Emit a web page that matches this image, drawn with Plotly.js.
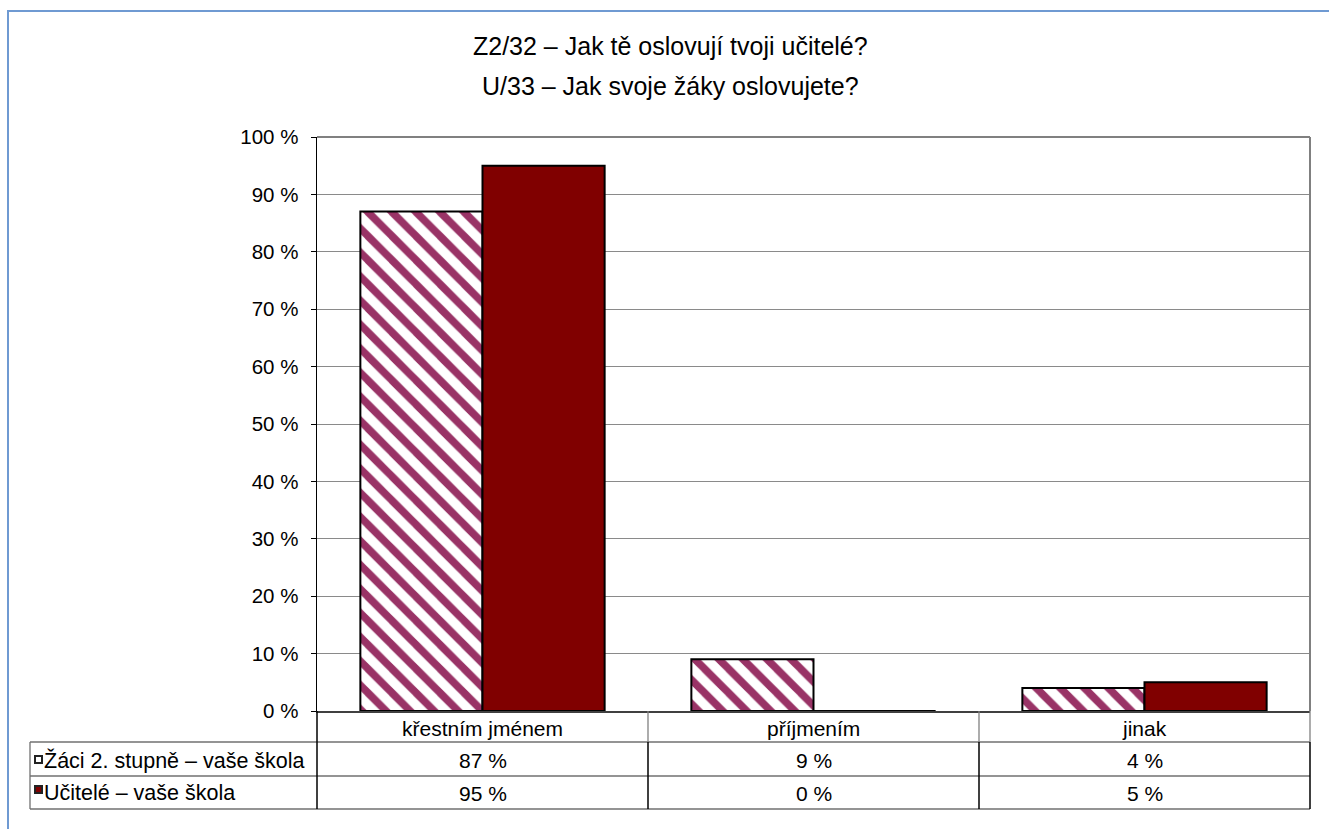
<!DOCTYPE html>
<html>
<head>
<meta charset="utf-8">
<script src="https://cdn.plot.ly/plotly-3.0.1.min.js"></script>
<style>html,body{margin:0;padding:0;background:#fff;}#chart{width:1329px;height:829px;}</style>
</head>
<body>
<div id="chart"></div>
<script>
const categories = ["křestním jménem", "příjmením", "jinak"];
const seriesNames = ["Žáci 2. stupně – vaše škola", "Učitelé – vaše škola"];
const zaciValues = [87, 9, 4];
const uciteleValues = [95, 0, 5];
const titleLines = ["Z2/32 – Jak tě oslovují tvoji učitelé?", "U/33 – Jak svoje žáky oslovujete?"];

const FONT = "Liberation Sans, Arial, sans-serif";
// plot area pixel geometry: x 317..1310, y 137..711
const L = 317, R = 1310, T = 137, B = 711;
const W = R - L, H = B - T;
const px = x => (x - L) / W;
const py = y => (B - y) / H;

const traces = [
  {
    type: "bar", x: categories, y: zaciValues, name: seriesNames[0],
    marker: {
      color: "white",
      line: {color: "black", width: 2},
      pattern: {shape: "\\", fgcolor: "#993366", bgcolor: "white", size: 17, solidity: 0.45, fillmode: "replace"}
    },
    hoverinfo: "skip"
  },
  {
    type: "bar", x: categories, y: uciteleValues, name: seriesNames[1],
    marker: {color: "#800000", line: {color: "black", width: 2}},
    hoverinfo: "skip"
  }
];

const shapes = [];
const line = (x0, y0, x1, y1, color, width) => shapes.push({
  type: "line", xref: "paper", yref: "paper", x0: px(x0), y0: py(y0), x1: px(x1), y1: py(y1),
  line: {color: color, width: width}
});
// plot top/right border
line(L, T, R, T, "#808080", 2);
line(R, T, R, B, "#808080", 2);
// table
const tL = 30, r1 = 742, r2 = 776, r3 = 809;
line(tL, r1, R, r1, "#707070", 1.3);
line(tL, r2, R, r2, "#707070", 1.3);
line(tL, r3, R, r3, "#707070", 1.3);
line(tL, r1, tL, r3, "#707070", 1.3);
line(L, B, L, r3, "black", 1.5);
const colW = W / categories.length;
for (let i = 1; i <= categories.length; i++) {
  const xx = L + colW * i;
  line(xx, B, xx, r1, "#808080", 1.3);
  line(xx, r1, xx, r3, "black", 1.5);
}
// legend keys
shapes.push({type: "rect", xref: "paper", yref: "paper", x0: px(35), x1: px(42), y0: py(763), y1: py(756),
  fillcolor: "white", line: {color: "#222", width: 2}});
shapes.push({type: "rect", xref: "paper", yref: "paper", x0: px(35), x1: px(42), y0: py(793), y1: py(786),
  fillcolor: "#800000", line: {color: "#222", width: 2}});
// outer blue frame
shapes.push({type: "rect", xref: "paper", yref: "paper", x0: px(8), x1: px(1345), y0: py(11), y1: py(845),
  fillcolor: "rgba(0,0,0,0)", line: {color: "#6f9ad2", width: 2}});

const annotations = [];
titleLines.forEach((t, i) => annotations.push({
  text: t, xref: "paper", yref: "paper", x: px(670), y: py(46 + i * 40), xanchor: "center", yanchor: "middle",
  showarrow: false, font: {family: FONT, size: 25, color: "black"}
}));
categories.forEach((c, i) => {
  annotations.push({text: c, xref: "x", yref: "paper", x: c, y: py(728), xanchor: "center", yanchor: "middle",
    showarrow: false, font: {family: FONT, size: 21, color: "black"}});
  annotations.push({text: zaciValues[i] + " %", xref: "x", yref: "paper", x: c, y: py(760), xanchor: "center", yanchor: "middle",
    showarrow: false, font: {family: FONT, size: 21, color: "black"}});
  annotations.push({text: uciteleValues[i] + " %", xref: "x", yref: "paper", x: c, y: py(793), xanchor: "center", yanchor: "middle",
    showarrow: false, font: {family: FONT, size: 21, color: "black"}});
});
seriesNames.forEach((s, i) => annotations.push({
  text: s, xref: "paper", yref: "paper", x: px(42), y: py(760 + i * 32.5), xanchor: "left", yanchor: "middle",
  showarrow: false, font: {family: FONT, size: 21.5, color: "black"}
}));

const layout = {
  width: 1329, height: 829,
  margin: {l: L, r: 1329 - R, t: T, b: 829 - B, pad: 0},
  paper_bgcolor: "white", plot_bgcolor: "white",
  showlegend: false,
  barmode: "group", bargap: 0.262, bargroupgap: 0,
  font: {family: FONT, size: 16, color: "black"},
  xaxis: {type: "category", showticklabels: false, ticks: "", showgrid: false, zeroline: false,
    showline: true, linecolor: "#404040", linewidth: 1.5, fixedrange: true},
  yaxis: {range: [0, 100], dtick: 10, tick0: 0, ticksuffix: " %", ticks: "outside", ticklen: 5, tickcolor: "black",
    tickwidth: 1, showline: true, linecolor: "black", linewidth: 1.5, showgrid: true, gridcolor: "#8a8a8a", gridwidth: 1,
    zeroline: false, ticklabelstandoff: 8, tickfont: {family: FONT, size: 20.5, color: "black"}, fixedrange: true},
  shapes: shapes,
  annotations: annotations
};

Plotly.newPlot("chart", traces, layout, {displayModeBar: false, staticPlot: true});
</script>
</body>
</html>
